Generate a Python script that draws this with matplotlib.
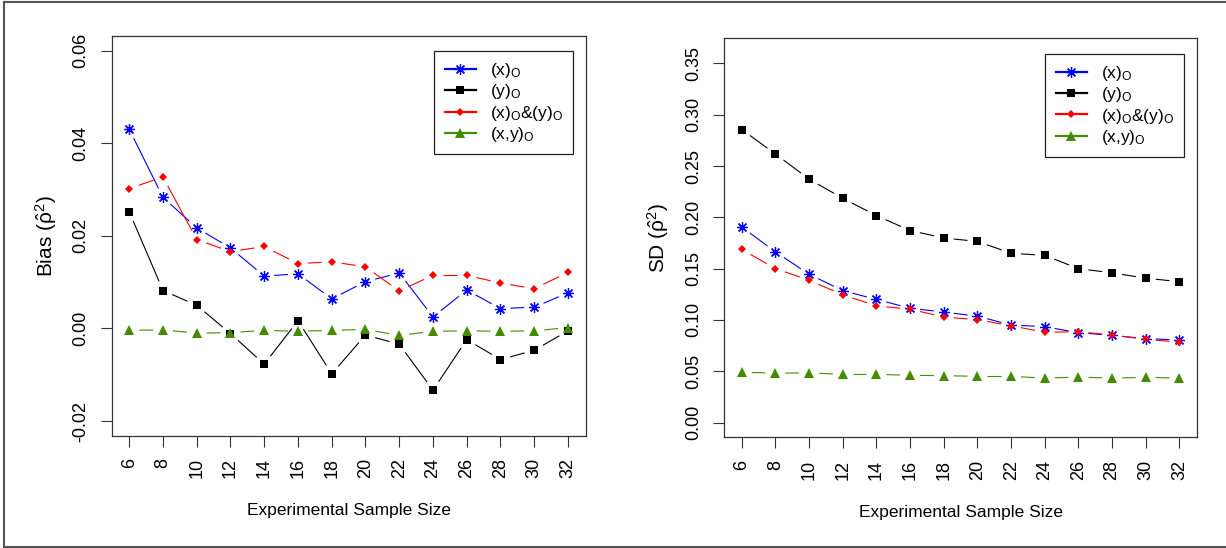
import numpy as np
import matplotlib
matplotlib.use("Agg")
from matplotlib import pyplot as plt
from matplotlib.lines import Line2D

plt.rcParams['font.family'] = ['Liberation Sans', 'DejaVu Sans']
plt.rcParams['mathtext.fontset'] = 'custom'
plt.rcParams['mathtext.rm'] = 'Liberation Sans'
plt.rcParams['mathtext.it'] = 'Liberation Sans'
plt.rcParams['mathtext.default'] = 'regular'
plt.rcParams['axes.unicode_minus'] = False

sizes = [6, 8, 10, 12, 14, 16, 18, 20, 22, 24, 26, 28, 30, 32]
labels = ["$(x)_O$", "$(y)_O$", "$(x)_O&(y)_O$", "$(x{,}y)_O$"]

bias_x = [0.0430, 0.0283, 0.0217, 0.0174, 0.0113, 0.0118, 0.0064, 0.0101, 0.0120, 0.0025, 0.0083, 0.0043, 0.0046, 0.0077]
bias_y = [0.0252, 0.0082, 0.0050, -0.0011, -0.0077, 0.0017, -0.0098, -0.0014, -0.0034, -0.0133, -0.0024, -0.0067, -0.0047, -0.0005]
bias_xy_both = [0.0302, 0.0327, 0.0192, 0.0166, 0.0177, 0.0140, 0.0144, 0.0133, 0.0081, 0.0115, 0.0115, 0.0098, 0.0086, 0.0121]
bias_joint = [-0.0004, -0.0003, -0.0010, -0.0009, -0.0004, -0.0006, -0.0004, -0.0002, -0.0015, -0.0006, -0.0005, -0.0006, -0.0005, 0.0002]

sd_x = [0.1905, 0.1663, 0.1445, 0.1285, 0.1200, 0.1114, 0.1077, 0.1036, 0.0951, 0.0934, 0.0876, 0.0849, 0.0818, 0.0804]
sd_y = [0.2856, 0.2617, 0.2372, 0.2185, 0.2017, 0.1871, 0.1799, 0.1765, 0.1650, 0.1629, 0.1500, 0.1459, 0.1407, 0.1373]
sd_xy_both = [0.1687, 0.1500, 0.1387, 0.1244, 0.1138, 0.1104, 0.1029, 0.1002, 0.0944, 0.0879, 0.0886, 0.0852, 0.0811, 0.0784]
sd_joint = [0.0491, 0.0481, 0.0484, 0.0470, 0.0470, 0.0460, 0.0457, 0.0450, 0.0450, 0.0433, 0.0443, 0.0433, 0.0440, 0.0433]

bias_ticks = [-0.02, 0.00, 0.02, 0.04, 0.06]
sd_ticks = [0.00, 0.05, 0.10, 0.15, 0.20, 0.25, 0.30, 0.35]

# colour, marker, markersize, markeredgewidth
styles = [
    ("#0000FF", (8, 2, 0), 7.8, 0.9),
    ("#000000", "s", 5.6, 0.0),
    ("#FF0000", "D", 3.8, 0.0),
    ("#458B00", "^", 7.2, 0.0),
]

GAP = 10  # pixels left blank around each point, like R's type="b"


def gapped_lines(ax, x, y, color):
    pts = ax.transData.transform(np.column_stack([x, y]))
    inv = ax.transData.inverted()
    for p0, p1 in zip(pts[:-1], pts[1:]):
        d = p1 - p0
        L = np.hypot(*d)
        if L <= 2 * GAP:
            continue
        a = p0 + d / L * GAP
        b = p1 - d / L * GAP
        seg = inv.transform(np.vstack([a, b]))
        ax.plot(seg[:, 0], seg[:, 1], color=color, lw=0.8, solid_capstyle='butt', zorder=2)


def panel(ax, series, ylim, ticks, ylabel, legend_anchor):
    lo, hi = ylim
    pad = 0.04 * (hi - lo)
    ax.set_ylim(lo - pad, hi + pad)
    ax.set_xlim(6 - 0.04 * 26, 32 + 0.04 * 26)
    ax.set_xticks(sizes)
    ax.set_xticklabels([str(s) for s in sizes], rotation=90, fontsize=13)
    ax.set_yticks(ticks)
    ax.set_yticklabels(["%.2f" % t for t in ticks], rotation=90, va='center', fontsize=13)
    ax.tick_params(direction='out', length=8, width=0.8, pad=8, color='#333333')
    for sp in ax.spines.values():
        sp.set_linewidth(0.9)
        sp.set_color('#333333')
    ax.set_xlabel("Experimental Sample Size", fontsize=12.5, labelpad=18)
    ax.set_ylabel(ylabel, fontsize=15, labelpad=10)

    handles = []
    for vals, (col, mk, ms, mew) in zip(series, styles):
        gapped_lines(ax, sizes, vals, col)
        ax.plot(sizes, vals, linestyle='none', marker=mk, markersize=ms,
                color=col, markeredgecolor=col, markeredgewidth=mew, zorder=3)
        handles.append(Line2D([], [], color=col, lw=1.6, marker=mk, markersize=ms,
                              markeredgecolor=col, markeredgewidth=mew))
    leg = ax.legend(handles, labels, loc='upper right', bbox_to_anchor=legend_anchor,
                    borderaxespad=0, fontsize=12.5, frameon=True, fancybox=False,
                    edgecolor='#222222', framealpha=1, handlelength=1.8,
                    handletextpad=0.8, labelspacing=0.13, borderpad=0.6)
    leg.get_frame().set_linewidth(0.9)


fig = plt.figure(figsize=(12.26, 5.48), dpi=100)
ax1 = fig.add_axes([0.0911, 0.2044, 0.3865, 0.7305])
ax2 = fig.add_axes([0.5908, 0.2020, 0.3855, 0.7279])

panel(ax1, [bias_x, bias_y, bias_xy_both, bias_joint], (-0.02, 0.06), bias_ticks,
      r"Bias ($\hat{\rho}^2$)", (0.9743, 0.9625))
panel(ax2, [sd_x, sd_y, sd_xy_both, sd_joint], (0.0, 0.36), sd_ticks,
      r"SD ($\hat{\rho}^2$)", (0.9735, 0.962))

# thin grey frame round the whole figure
fw, fh = 1226.0, 548.0
for xs, ys in [([4 / fw, 4 / fw], [1 / fh, 1 - 2 / fh]),
               ([4 / fw, 1.0], [1 - 2 / fh, 1 - 2 / fh]),
               ([4 / fw, 1.0], [1 / fh, 1 / fh])]:
    fig.add_artist(Line2D(xs, ys, color='#555555', lw=1.5, transform=fig.transFigure))

fig.savefig("out.png", dpi=100)
